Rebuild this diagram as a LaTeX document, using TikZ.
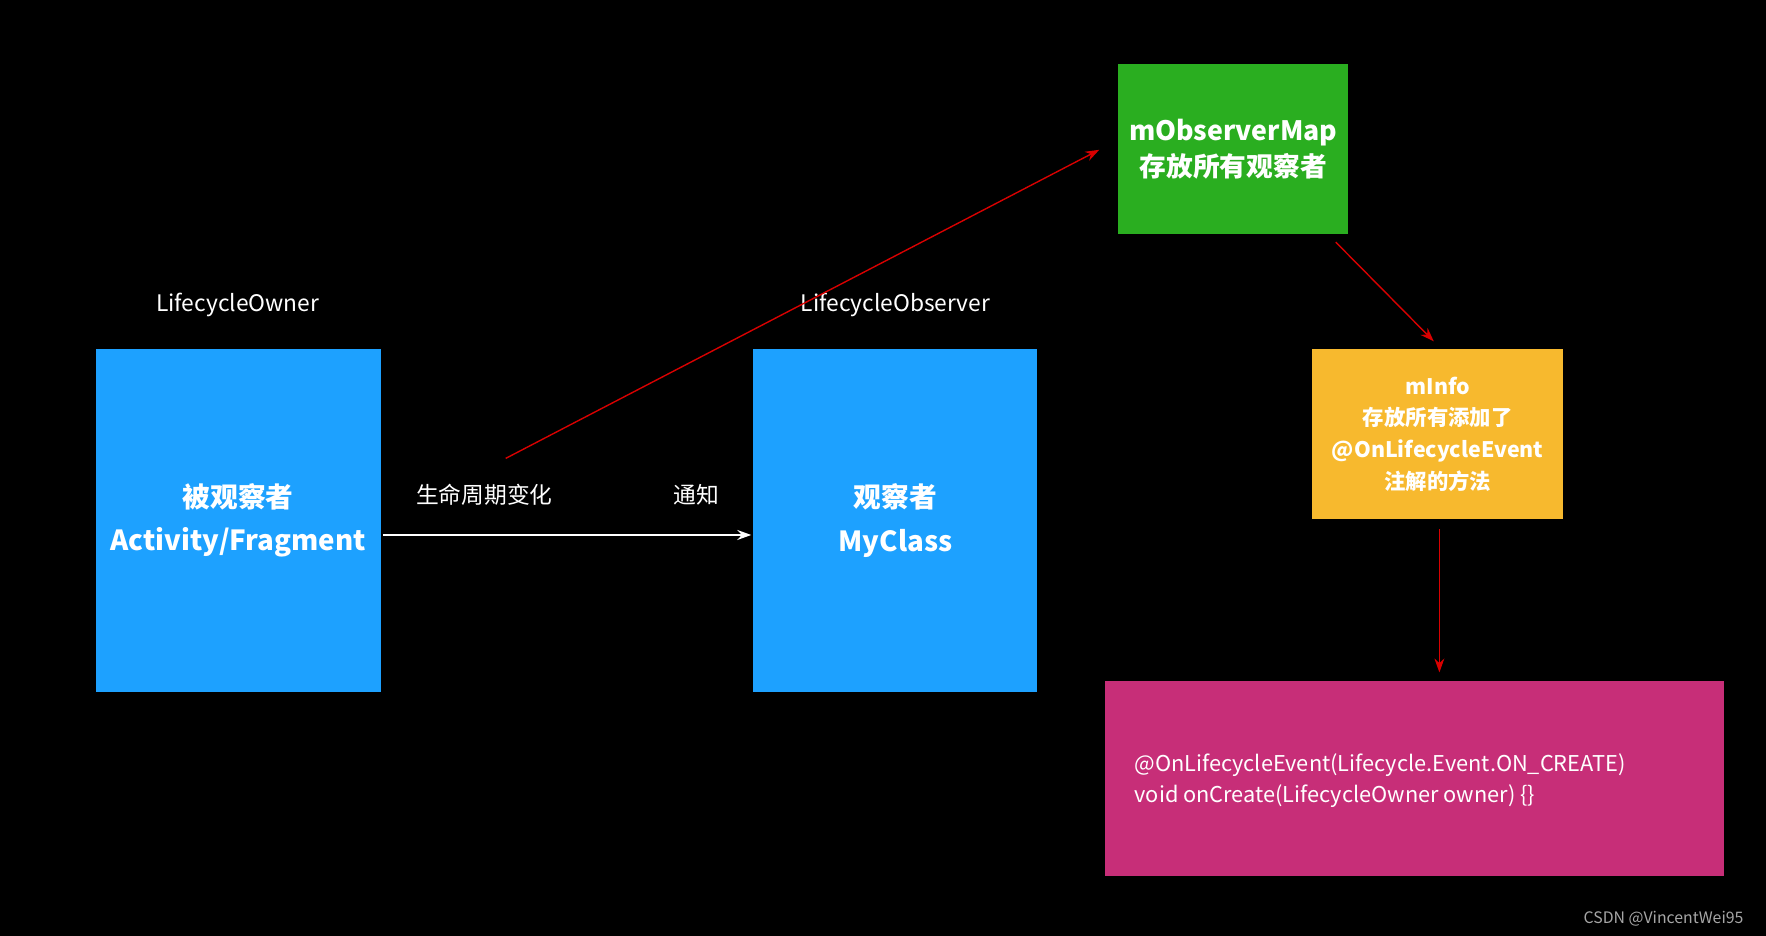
\documentclass[tikz,border=0pt]{standalone}
\usepackage{fontspec}
\setmainfont{Noto Sans CJK SC}
\begin{document}
\begin{tikzpicture}[x=0.02cm,y=-0.02cm,
  box/.style={draw=none,inner sep=0pt,font=\bfseries,text=white,align=center},
  lbl/.style={text=white,font=\fontsize{11.5}{14}\selectfont,inner sep=0pt},
  red/.style={draw=red!85!black,line width=0.7pt,-{Stealth[length=7pt,width=5pt]}}]
\usetikzlibrary{arrows.meta}
\fill[black] (0,0) rectangle (1568,831);
\useasboundingbox (0,0) rectangle (1568,831);
\node[box,fill={rgb,255:red,29;green,161;blue,255},minimum width=253*0.02cm,minimum height=304*0.02cm,font=\bfseries\fontsize{14}{22}\selectfont] (owner) at (211.5,462) {被观察者\\Activity/Fragment};
\node[box,fill={rgb,255:red,29;green,161;blue,255},minimum width=252*0.02cm,minimum height=304*0.02cm,font=\bfseries\fontsize{14}{22}\selectfont] (obs) at (795,462) {观察者\\MyClass};
\node[box,fill={rgb,255:red,42;green,174;blue,32},minimum width=204*0.02cm,minimum height=151*0.02cm,font=\bfseries\fontsize{13.5}{18}\selectfont] (map) at (1095,132.5) {mObserverMap\\存放所有观察者};
\node[box,fill={rgb,255:red,247;green,185;blue,46},minimum width=223*0.02cm,minimum height=151*0.02cm,font=\bfseries\fontsize{10.8}{16}\selectfont] (info) at (1276.5,385.5) {mInfo\\存放所有添加了\\@OnLifecycleEvent\\注解的方法};
\node[box,fill={rgb,255:red,199;green,46;blue,120},minimum width=550*0.02cm,minimum height=173*0.02cm] (ev) at (1256,691.5) {};
\node[text=white,font=\fontsize{11}{16}\selectfont,align=left,anchor=west,inner sep=0pt] (evt) at (1007,693) {@OnLifecycleEvent(Lifecycle.Event.ON\_CREATE)\\void onCreate(LifecycleOwner owner) \{\}};
\node[lbl] (l1) at (211,271) {LifecycleOwner};
\node[lbl] (l2) at (795,271) {LifecycleObserver};
\node[lbl] (l3) at (430,439) {生命周期变化};
\node[lbl] (l4) at (618,439) {通知};
\node[text=gray!70,font=\fontsize{8}{10}\selectfont,inner sep=0pt] (wm) at (1477,816) {CSDN @VincentWei95};
\coordinate (a0) at (340,475); \coordinate (a1) at (667,475);
\draw[white,line width=1pt,-{Stealth[length=7pt,width=5pt]}] (a0) -- (a1);
\coordinate (r0) at (449,407); \coordinate (r1) at (976,133);
\draw[red] (r0) -- (r1);
\coordinate (r2) at (1186,215); \coordinate (r3) at (1273,303);
\draw[red] (r2) -- (r3);
\coordinate (r4) at (1278,470); \coordinate (r5) at (1278,597);
\draw[red] (r4) -- (r5);
\end{tikzpicture}
\end{document}
